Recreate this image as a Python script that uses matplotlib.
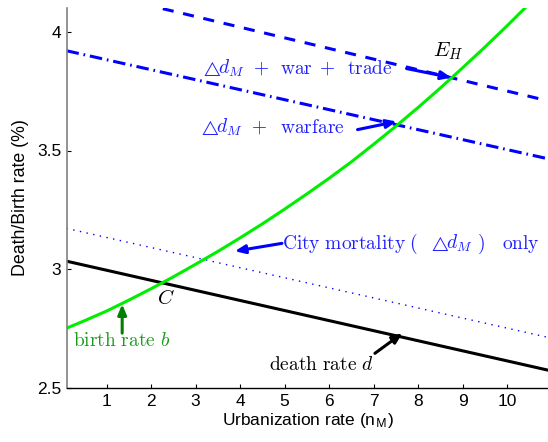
import matplotlib
matplotlib.use("Agg")
import matplotlib.pyplot as plt

plt.rcParams['mathtext.fontset'] = 'cm'
plt.rcParams['font.family'] = ['Liberation Sans', 'DejaVu Sans']
plt.rcParams['lines.scale_dashes'] = False

# ---- data ----
x_line = [0.1, 10.9]
death_rate = [3.034, 2.576]            # black solid
city_mortality = [3.172, 2.714]        # blue dotted
warfare = [3.920, 3.466]               # blue dash-dot
war_trade = [4.194, 3.710]             # blue dashed

birth_x = [0.1, 0.5, 1, 1.5, 2, 2.5, 3, 3.5, 4, 4.5, 5, 5.5,
           6, 6.5, 7, 7.5, 8, 8.5, 9, 9.5, 10, 10.5]
birth_rate = [2.752, 2.783, 2.824, 2.870, 2.918, 2.968, 3.021, 3.075, 3.132, 3.191, 3.253, 3.317,
              3.383, 3.452, 3.526, 3.602, 3.681, 3.763, 3.848, 3.935, 4.025, 4.118]

x_ticks = [1, 2, 3, 4, 5, 6, 7, 8, 9, 10]
y_ticks = [2.5, 3, 3.5, 4]
y_tick_labels = ['2.5', '3', '3.5', '4']

W, H = 548, 442
fig = plt.figure(figsize=(W/100, H/100), dpi=100)
ax = fig.add_axes([67/W, 1-388/H, (W-67)/W, (388-8)/H])

ax.plot(x_line, war_trade, color='#0000ff', lw=2.2, dashes=(8, 7))
ax.plot(x_line, warfare, color='#0000ff', lw=2.2, dashes=(9, 3.5, 1.2, 3.5))
ax.plot(x_line, city_mortality, color='#0000ff', lw=1.0, dashes=(1, 3.9))
ax.plot(x_line, death_rate, color='black', lw=2.2)
ax.plot(birth_x, birth_rate, color='#00ee00', lw=2.2)

ax.set_xlim(0.11, 10.92)
ax.set_ylim(2.5, 4.1)
ax.set_xticks(x_ticks)
ax.set_yticks(y_ticks)
ax.set_yticklabels(y_tick_labels)
ax.tick_params(direction='in', length=3, labelsize=12.5, width=0.8, pad=4)
for s in ['top', 'right']:
    ax.spines[s].set_visible(False)
ax.spines['left'].set_color('#808080')
ax.spines['left'].set_linewidth(1.2)
ax.spines['bottom'].set_linewidth(1.0)

ax.set_xlabel('Urbanization rate (n$_\\mathsf{M}$)', fontsize=12.5, labelpad=2)
ax.set_ylabel('Death/Birth rate (%)', fontsize=12.8, labelpad=6)

blue = '#2020ff'
fs = 14
tri_fs = 10.5


def pieces(items, baseline_px, color):
    for txt, px, size, ha in items:
        fig.text(px/W, 1-baseline_px/H, txt, fontsize=size, color=color,
                 ha=ha, va='baseline')

TRI = r'$\triangle$'
PLUS = r'$+$'
pieces([(TRI, 201, tri_fs, 'left'), (r'$d_M$', 218, fs, 'left'), (PLUS, 261, fs, 'center'),
        (r'$\mathrm{war}$', 280, fs, 'left'), (PLUS, 327, fs, 'center'),
        (r'$\mathrm{trade}$', 347, fs, 'left')],
       74, blue)
pieces([(TRI, 199, tri_fs, 'left'), (r'$d_M$', 216, fs, 'left'), (PLUS, 259, fs, 'center'),
        (r'$\mathrm{warfare}$', 280, fs, 'left')], 133, blue)
pieces([(r'$\mathrm{City\ mortality}$', 282, fs, 'left'), (r'$($', 409, fs, 'left'),
        (TRI, 429, tri_fs, 'left'), (r'$d_M$', 446, fs, 'left'), (r'$)$', 477, fs, 'left'),
        (r'$\mathrm{only}$', 502, fs, 'left')], 249, blue)

ax.text(8.68, 3.92, r'$E_H$', fontsize=15, ha='center', va='center')
ax.text(4.66, 2.576, r'$\mathrm{death\ rate}\ d$', fontsize=fs, color='black', ha='left', va='baseline')
ax.text(0.25, 2.676, r'$\mathrm{birth\ rate}\ b$', fontsize=fs, color='#1a9a1a', ha='left', va='baseline')
ax.text(2.13, 2.853, r'$C$', fontsize=15, color='black', ha='left', va='baseline')


def arrow(tail, tip, color):
    ax.annotate('', xy=tip, xytext=tail,
                arrowprops=dict(arrowstyle='-|>,head_length=0.6,head_width=0.25',
                                lw=2.2, color=color, shrinkA=0, shrinkB=0))

arrow((7.74, 3.845), (8.75, 3.807), '#0000ff')
arrow((6.64, 3.588), (7.52, 3.622), '#0000ff')
arrow((4.94, 3.109), (3.88, 3.076), '#0000ff')
arrow((7.03, 2.646), (7.65, 2.731), 'black')
arrow((1.35, 2.731), (1.35, 2.853), '#007f00')

fig.savefig('out.png', dpi=100)
